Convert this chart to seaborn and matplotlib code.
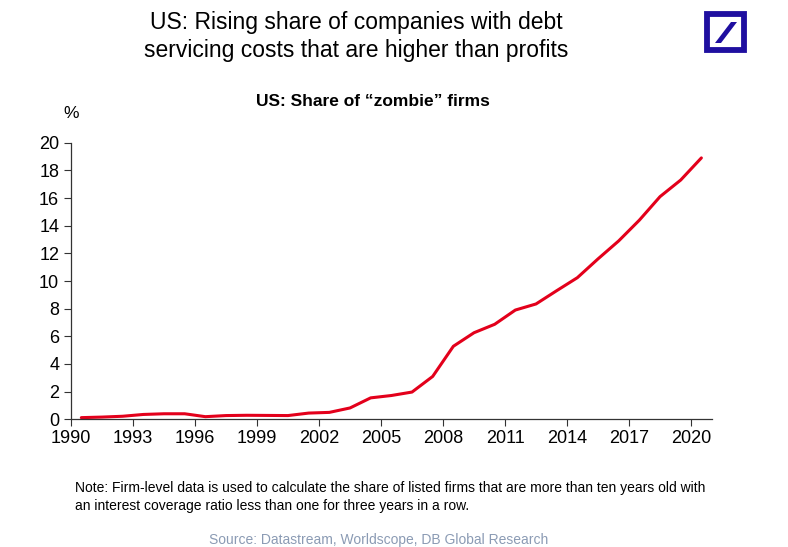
import numpy as np
import pandas as pd
import seaborn as sns
import matplotlib.pyplot as plt
from matplotlib.patches import Rectangle, Polygon

years = list(range(1990, 2021))
zombie_share = [0.12, 0.16, 0.22, 0.35, 0.40, 0.40, 0.19, 0.27, 0.29, 0.28,
                0.27, 0.45, 0.50, 0.82, 1.55, 1.72, 1.97, 3.10, 5.28, 6.26,
                6.87, 7.90, 8.34, 9.30, 10.24, 11.60, 12.90, 14.40, 16.10, 17.30,
                18.90]
xticks = list(range(1990, 2021, 3))
yticks = list(range(0, 21, 2))

df = pd.DataFrame({'year': years, 'share': zombie_share})
# annual obs plotted at mid-year
df['x'] = df['year'] + 0.5

sns.set_style('white')
plt.rcParams['font.family'] = ['Liberation Sans', 'DejaVu Sans']
plt.rcParams['text.color'] = 'black'

W, H = 788, 547
fig = plt.figure(figsize=(W / 100, H / 100), dpi=100)
ax = fig.add_axes([71 / W, 1 - 419.3 / H, (711.7 - 71) / W, (419.3 - 142.7) / H])

sns.lineplot(data=df, x='x', y='share', color='#e3001b', linewidth=2.2, ax=ax)

ax.set_xlim(1990, 2021)
ax.set_ylim(0, 20)
ax.set_xticks(xticks)
ax.set_yticks(yticks)
ax.set_xlabel('')
ax.set_ylabel('')
ax.tick_params(axis='both', labelsize=13, colors='black', length=5, width=0.8,
               direction='out', bottom=True, left=True)
ax.tick_params(axis='both', colors='#333333', labelcolor='black')
ax.tick_params(axis='x', pad=3)
for s in ['top', 'right']:
    ax.spines[s].set_visible(False)
for s in ['left', 'bottom']:
    ax.spines[s].set_color('#333333')
    ax.spines[s].set_linewidth(0.9)

fig.text(356 / W, 1 - 22 / H, 'US: Rising share of companies with debt', ha='center', va='center', fontsize=16.5)
fig.text(356 / W, 1 - 51 / H, 'servicing costs that are higher than profits', ha='center', va='center', fontsize=16.5)
fig.text(373 / W, 1 - 101 / H, 'US: Share of \u201czombie\u201d firms', ha='center', va='center',
         fontsize=12.5, fontweight='bold')
fig.text(71 / W, 1 - 114 / H, '%', ha='center', va='center', fontsize=12.5)
fig.text(75 / W, 1 - 488 / H, 'Note: Firm-level data is used to calculate the share of listed firms that are more than ten years old with',
         ha='left', va='center', fontsize=10)
fig.text(75 / W, 1 - 506 / H, 'an interest coverage ratio less than one for three years in a row.',
         ha='left', va='center', fontsize=10)
fig.text(379 / W, 1 - 540 / H, 'Source: Datastream, Worldscope, DB Global Research', ha='center', va='center',
         fontsize=10, color='#8b9bb4')

# Deutsche Bank logo
blue = '#1f0fa0'
fig.patches.append(Rectangle((707 / W, 1 - 50 / H), 37 / W, 36 / H, transform=fig.transFigure,
                             fill=False, edgecolor=blue, linewidth=4.2))
fig.patches.append(Polygon([(715 / W, 1 - 43 / H), (721 / W, 1 - 43 / H), (737 / W, 1 - 22 / H), (731 / W, 1 - 22 / H)],
                           closed=True, transform=fig.transFigure, facecolor=blue, edgecolor='none'))

fig.savefig('out.png', dpi=100)
